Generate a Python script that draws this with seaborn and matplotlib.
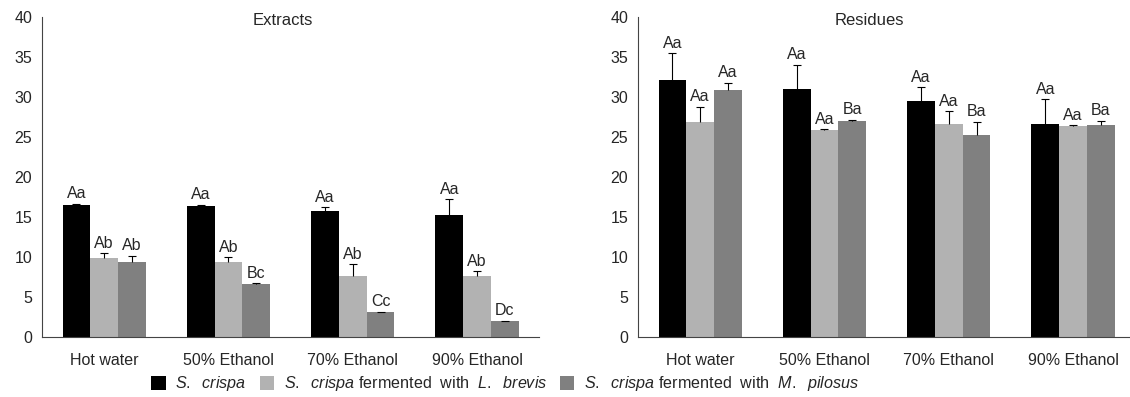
import numpy as np
import pandas as pd
import matplotlib
matplotlib.use("Agg")
import matplotlib.pyplot as plt
import seaborn as sns
from matplotlib.patches import Patch
from matplotlib.container import BarContainer

solvents = ["Hot water", "50% Ethanol", "70% Ethanol", "90% Ethanol"]
samples = ["S. crispa", "S. crispa + L. brevis", "S. crispa + M. pilosus"]
colors = ["#000000", "#b2b2b2", "#808080"]

# Extracts (rows = samples, cols = solvents)
ext_mean = [[16.5, 16.4, 15.8, 15.25],
            [9.9, 9.45, 7.65, 7.65],
            [9.45, 6.65, 3.15, 2.05]]
ext_err = [[0.2, 0.2, 0.5, 2.0],
           [0.65, 0.55, 1.5, 0.65],
           [0.75, 0.1, 0.08, 0.04]]
ext_lab = [["Aa", "Aa", "Aa", "Aa"],
           ["Ab", "Ab", "Ab", "Ab"],
           ["Ab", "Bc", "Cc", "Dc"]]

# Residues
res_mean = [[32.2, 31.1, 29.6, 26.7],
            [26.95, 25.95, 26.7, 26.45],
            [30.95, 27.1, 25.35, 26.6]]
res_err = [[3.3, 3.0, 1.7, 3.1],
           [1.9, 0.05, 1.6, 0.12],
           [0.9, 0.12, 1.6, 0.5]]
res_lab = [["Aa", "Aa", "Aa", "Aa"],
           ["Aa", "Aa", "Aa", "Aa"],
           ["Aa", "Ba", "Ba", "Ba"]]

sns.set_style("white")
plt.rcParams["font.family"] = ["Liberation Sans", "DejaVu Sans"]
plt.rcParams["mathtext.fontset"] = "custom"
plt.rcParams["mathtext.it"] = "Liberation Sans:italic"
plt.rcParams["mathtext.rm"] = "Liberation Sans"
plt.rcParams["font.size"] = 11.5


def make_df(mean, err):
    rows = []
    for i, s in enumerate(samples):
        for j, c in enumerate(solvents):
            rows.append({"solvent": c, "sample": s, "value": mean[i][j], "err": err[i][j]})
    return pd.DataFrame(rows)


def draw(ax, mean, err, labels, title, title_x):
    df = make_df(mean, err)
    sns.barplot(data=df, x="solvent", y="value", hue="sample", order=solvents,
                hue_order=samples, palette=colors, width=0.67, errorbar=None,
                legend=False, ax=ax, linewidth=0, saturation=1)
    bars = [c for c in ax.containers if isinstance(c, BarContainer)]
    for i, cont in enumerate(bars):
        for j, bar in enumerate(cont.patches):
            xc = bar.get_x() + bar.get_width() / 2
            h = bar.get_height()
            e = err[i][j]
            _, caps, _ = ax.errorbar(xc, h, yerr=[[0], [e]], fmt="none", ecolor="black",
                                     elinewidth=0.8, capsize=3, capthick=0.8)
            caps[0].set_visible(False)
            ax.text(xc, h + e + 0.3, labels[i][j], ha="center", va="bottom", fontsize=11.5)
    ax.set_ylim(0, 40)
    ax.set_xlim(-0.5, 3.5)
    ax.set_yticks(np.arange(0, 41, 5))
    ax.set_xticks([-0.5, 0.5, 1.5, 2.5, 3.5])
    ax.set_xticklabels([])
    ax.set_xticks(range(4), minor=True)
    ax.set_xticklabels(solvents, minor=True)
    ax.tick_params(axis="x", which="minor", length=0, pad=11, labelsize=11.5)
    ax.tick_params(axis="x", which="major", length=5, width=0.8, color="#444444", direction="in")
    ax.tick_params(axis="y", length=4, width=0.8, color="#444444", direction="out", pad=3,
                   labelsize=11.5)
    ax.set_xlabel("")
    ax.set_ylabel("")
    sns.despine(ax=ax)
    for sp in ["left", "bottom"]:
        ax.spines[sp].set_color("#444444")
        ax.spines[sp].set_linewidth(0.8)
    ax.text(title_x, 0.99, title, transform=ax.transAxes, ha="center", va="center", fontsize=12)


fig = plt.figure(figsize=(11.3, 3.97), dpi=100)
ax1 = fig.add_axes([0.0372, 0.150, 0.440, 0.806])
ax2 = fig.add_axes([0.5646, 0.150, 0.440, 0.806])
draw(ax1, ext_mean, ext_err, ext_lab, "Extracts", 0.485)
draw(ax2, res_mean, res_err, res_lab, "Residues", 0.465)

leg_labels = [r"$\it{S.}$  $\it{crispa}$",
              r"$\it{S.}$  $\it{crispa}$ fermented  with  $\it{L.}$  $\it{brevis}$",
              r"$\it{S.}$  $\it{crispa}$ fermented  with  $\it{M.}$  $\it{pilosus}$"]
handles = [Patch(facecolor=c, edgecolor="none") for c in colors]
fig.legend(handles, leg_labels, loc="center", bbox_to_anchor=(0.447, 0.033), ncol=3,
           frameon=False, fontsize=11.6, handlelength=0.9, handleheight=0.9,
           handletextpad=0.6, columnspacing=0.8, borderpad=0)

fig.savefig("out.png", dpi=100)
